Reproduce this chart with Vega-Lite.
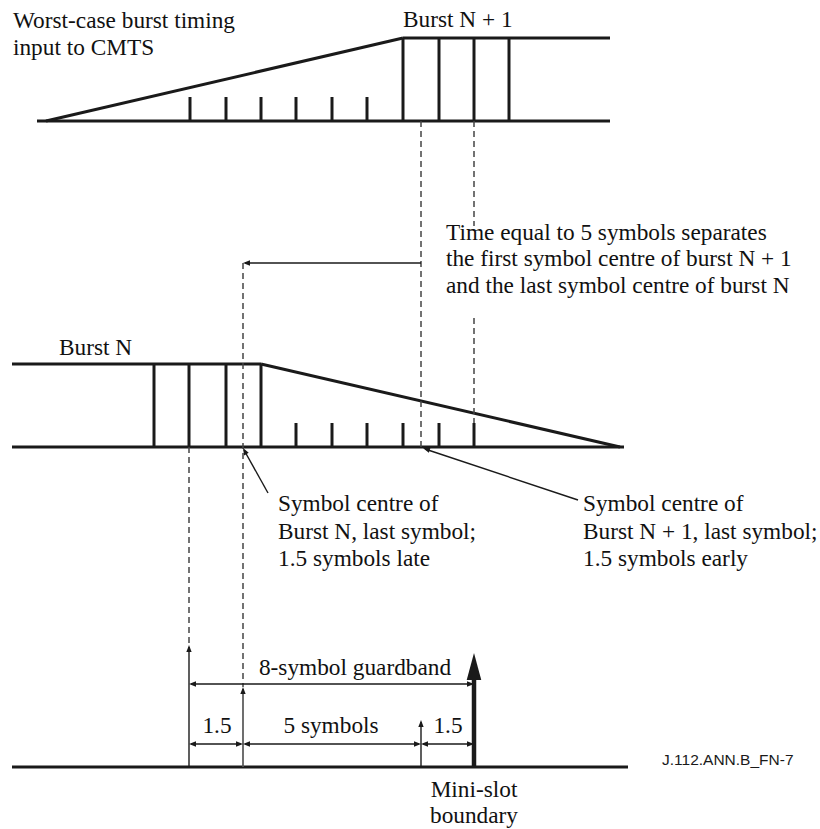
{
  "$schema": "https://vega.github.io/schema/vega-lite/v6.json",
  "width": 820,
  "height": 829,
  "autosize": {"type": "fit", "contains": "padding"},
  "padding": 0,
  "background": "white",
  "config": {"view": {"stroke": null}},
  "layer": [
    {
      "data": {"values": [
        {"x1": 37, "y1": 121, "x2": 610, "y2": 121},
        {"x1": 46, "y1": 121, "x2": 403, "y2": 38},
        {"x1": 403, "y1": 38, "x2": 610, "y2": 38},
        {"x1": 403, "y1": 38, "x2": 403, "y2": 121},
        {"x1": 439, "y1": 38, "x2": 439, "y2": 121},
        {"x1": 474, "y1": 38, "x2": 474, "y2": 121},
        {"x1": 509, "y1": 38, "x2": 509, "y2": 121},
        {"x1": 190, "y1": 97, "x2": 190, "y2": 121},
        {"x1": 226, "y1": 97, "x2": 226, "y2": 121},
        {"x1": 261, "y1": 97, "x2": 261, "y2": 121},
        {"x1": 296, "y1": 97, "x2": 296, "y2": 121},
        {"x1": 332, "y1": 97, "x2": 332, "y2": 121},
        {"x1": 367, "y1": 97, "x2": 367, "y2": 121},
        {"x1": 12, "y1": 364, "x2": 261, "y2": 364},
        {"x1": 12, "y1": 447, "x2": 624, "y2": 447},
        {"x1": 261, "y1": 364, "x2": 620, "y2": 447},
        {"x1": 154, "y1": 364, "x2": 154, "y2": 447},
        {"x1": 189, "y1": 364, "x2": 189, "y2": 447},
        {"x1": 226, "y1": 364, "x2": 226, "y2": 447},
        {"x1": 261, "y1": 364, "x2": 261, "y2": 447},
        {"x1": 296, "y1": 423, "x2": 296, "y2": 447},
        {"x1": 332, "y1": 423, "x2": 332, "y2": 447},
        {"x1": 367, "y1": 423, "x2": 367, "y2": 447},
        {"x1": 403, "y1": 423, "x2": 403, "y2": 447},
        {"x1": 439, "y1": 423, "x2": 439, "y2": 447},
        {"x1": 474, "y1": 423, "x2": 474, "y2": 447},
        {"x1": 12, "y1": 767, "x2": 628, "y2": 767}
      ]},
      "mark": {"type": "rule", "color": "#1a1a1a", "strokeWidth": 3, "strokeCap": "butt"},
      "encoding": {
        "x": {"field": "x1", "type": "quantitative", "scale": {"domain": [0, 820], "nice": false, "zero": false}, "axis": null},
        "y": {"field": "y1", "type": "quantitative", "scale": {"domain": [0, 829], "nice": false, "zero": false, "reverse": true}, "axis": null},
        "x2": {"field": "x2"},
        "y2": {"field": "y2"}
      }
    },
    {
      "data": {"values": [
        {"x1": 474, "y1": 676, "x2": 474, "y2": 767}
      ]},
      "mark": {"type": "rule", "color": "#1a1a1a", "strokeWidth": 4.5, "strokeCap": "butt"},
      "encoding": {
        "x": {"field": "x1", "type": "quantitative", "axis": null},
        "y": {"field": "y1", "type": "quantitative", "axis": null},
        "x2": {"field": "x2"},
        "y2": {"field": "y2"}
      }
    },
    {
      "data": {"values": [
        {"x1": 421, "y1": 121, "x2": 421, "y2": 447},
        {"x1": 474, "y1": 121, "x2": 474, "y2": 226},
        {"x1": 474, "y1": 318, "x2": 474, "y2": 423},
        {"x1": 243, "y1": 263, "x2": 243, "y2": 687},
        {"x1": 189, "y1": 447, "x2": 189, "y2": 645}
      ]},
      "mark": {"type": "rule", "color": "#444444", "strokeWidth": 1.5, "strokeDash": [6, 4]},
      "encoding": {
        "x": {"field": "x1", "type": "quantitative", "axis": null},
        "y": {"field": "y1", "type": "quantitative", "axis": null},
        "x2": {"field": "x2"},
        "y2": {"field": "y2"}
      }
    },
    {
      "data": {"values": [
        {"x1": 245, "y1": 263, "x2": 421, "y2": 263},
        {"x1": 244, "y1": 450, "x2": 268, "y2": 493},
        {"x1": 425, "y1": 449, "x2": 578, "y2": 500},
        {"x1": 189, "y1": 647, "x2": 189, "y2": 767},
        {"x1": 421, "y1": 722, "x2": 421, "y2": 767},
        {"x1": 191, "y1": 684, "x2": 472, "y2": 684},
        {"x1": 191, "y1": 744, "x2": 241, "y2": 744},
        {"x1": 245, "y1": 744, "x2": 419, "y2": 744},
        {"x1": 423, "y1": 744, "x2": 472, "y2": 744}
      ]},
      "mark": {"type": "rule", "color": "#1a1a1a", "strokeWidth": 1.4},
      "encoding": {
        "x": {"field": "x1", "type": "quantitative", "axis": null},
        "y": {"field": "y1", "type": "quantitative", "axis": null},
        "x2": {"field": "x2"},
        "y2": {"field": "y2"}
      }
    },
    {
      "data": {"values": [
        {"x1": 243, "y1": 689, "x2": 243, "y2": 767}
      ]},
      "mark": {"type": "rule", "color": "#555555", "strokeWidth": 1.7},
      "encoding": {
        "x": {"field": "x1", "type": "quantitative", "axis": null},
        "y": {"field": "y1", "type": "quantitative", "axis": null},
        "x2": {"field": "x2"},
        "y2": {"field": "y2"}
      }
    },
    {
      "data": {"values": [
        {"x": 243, "y": 263, "angle": 270},
        {"x": 243, "y": 448, "angle": 331},
        {"x": 423, "y": 448, "angle": 288.5},
        {"x": 189, "y": 645, "angle": 0},
        {"x": 243, "y": 687, "angle": 0},
        {"x": 421, "y": 720, "angle": 0},
        {"x": 189, "y": 684, "angle": 270},
        {"x": 474, "y": 684, "angle": 90},
        {"x": 189, "y": 744, "angle": 270},
        {"x": 243, "y": 744, "angle": 90},
        {"x": 243, "y": 744, "angle": 270},
        {"x": 421, "y": 744, "angle": 90},
        {"x": 421, "y": 744, "angle": 270},
        {"x": 474, "y": 744, "angle": 90}
      ]},
      "mark": {"type": "point", "shape": "M0,0L-0.38,1L0.38,1Z", "filled": true, "color": "#1a1a1a", "opacity": 1, "size": 196, "strokeWidth": 0},
      "encoding": {
        "x": {"field": "x", "type": "quantitative", "axis": null},
        "y": {"field": "y", "type": "quantitative", "axis": null},
        "angle": {"field": "angle", "type": "quantitative", "scale": null}
      }
    },
    {
      "data": {"values": [
        {"x": 474, "y": 653, "angle": 0}
      ]},
      "mark": {"type": "point", "shape": "M0,0L-0.27,1L0.27,1Z", "filled": true, "color": "#1a1a1a", "opacity": 1, "size": 2916, "strokeWidth": 0},
      "encoding": {
        "x": {"field": "x", "type": "quantitative", "axis": null},
        "y": {"field": "y", "type": "quantitative", "axis": null},
        "angle": {"field": "angle", "type": "quantitative", "scale": null}
      }
    },
    {
      "data": {"values": [
        {"label": "Worst-case burst timing", "x": 13, "y": 28},
        {"label": "input to CMTS", "x": 13, "y": 55},
        {"label": "Burst N + 1", "x": 403, "y": 27},
        {"label": "Time equal to 5 symbols separates", "x": 446, "y": 240},
        {"label": "the first symbol centre of burst N + 1", "x": 446, "y": 266},
        {"label": "and the last symbol centre of burst N", "x": 446, "y": 293},
        {"label": "Burst N", "x": 59, "y": 355},
        {"label": "Symbol centre of", "x": 278, "y": 511},
        {"label": "Burst N, last symbol;", "x": 278, "y": 539},
        {"label": "1.5 symbols late", "x": 278, "y": 566},
        {"label": "Symbol centre of", "x": 583, "y": 511},
        {"label": "Burst N + 1, last symbol;", "x": 583, "y": 539},
        {"label": "1.5 symbols early", "x": 583, "y": 566}
      ]},
      "mark": {"type": "text", "font": "Liberation Serif", "fontSize": 23.3, "align": "left", "baseline": "alphabetic", "color": "#111111"},
      "encoding": {
        "x": {"field": "x", "type": "quantitative", "axis": null},
        "y": {"field": "y", "type": "quantitative", "axis": null},
        "text": {"field": "label", "type": "nominal"}
      }
    },
    {
      "data": {"values": [
        {"label": "8-symbol guardband", "x": 355, "y": 675},
        {"label": "1.5", "x": 217, "y": 733},
        {"label": "5 symbols", "x": 331, "y": 733},
        {"label": "1.5", "x": 448, "y": 733},
        {"label": "Mini-slot", "x": 474, "y": 797},
        {"label": "boundary", "x": 474, "y": 823}
      ]},
      "mark": {"type": "text", "font": "Liberation Serif", "fontSize": 23.3, "align": "center", "baseline": "alphabetic", "color": "#111111"},
      "encoding": {
        "x": {"field": "x", "type": "quantitative", "axis": null},
        "y": {"field": "y", "type": "quantitative", "axis": null},
        "text": {"field": "label", "type": "nominal"}
      }
    },
    {
      "data": {"values": [
        {"label": "J.112.ANN.B_FN-7", "x": 662, "y": 765}
      ]},
      "mark": {"type": "text", "font": "Liberation Sans", "fontSize": 15.5, "align": "left", "baseline": "alphabetic", "color": "#1a1a1a"},
      "encoding": {
        "x": {"field": "x", "type": "quantitative", "axis": null},
        "y": {"field": "y", "type": "quantitative", "axis": null},
        "text": {"field": "label", "type": "nominal"}
      }
    }
  ]
}
